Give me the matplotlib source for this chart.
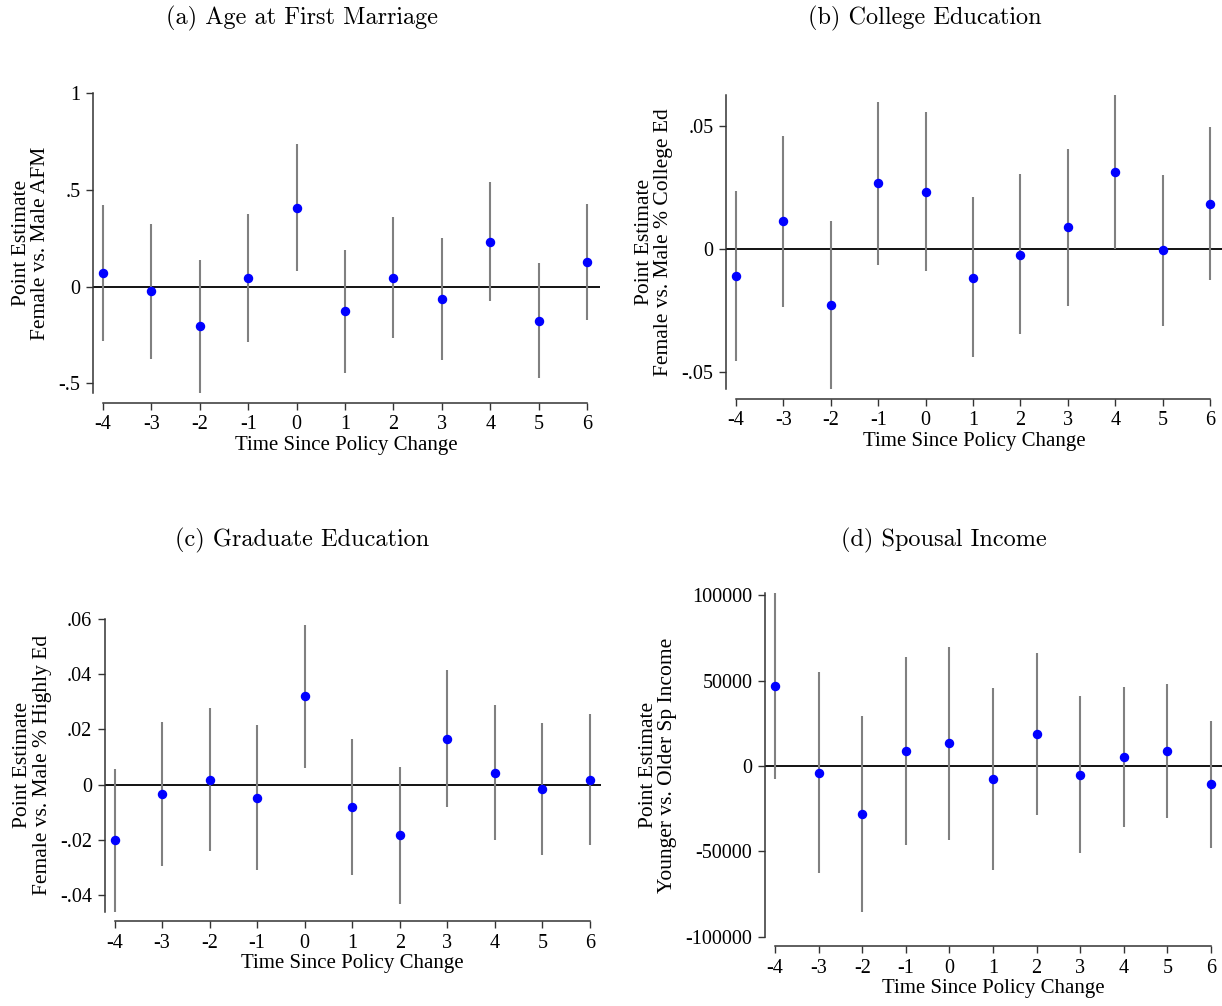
import matplotlib
matplotlib.use("Agg")
import matplotlib.pyplot as plt

# event-time axis shared by every panel
periods = [-4, -3, -2, -1, 0, 1, 2, 3, 4, 5, 6]

# (a) age at first marriage
afm_est = [0.070, -0.024, -0.205, 0.043, 0.408, -0.127, 0.046, -0.065, 0.231, -0.176, 0.125]
afm_hi = [0.421, 0.325, 0.137, 0.375, 0.735, 0.190, 0.360, 0.252, 0.541, 0.122, 0.425]
afm_lo = [-0.281, -0.375, -0.548, -0.288, 0.082, -0.447, -0.265, -0.382, -0.077, -0.474, -0.175]

# (b) college education
col_est = [-0.0110, 0.0113, -0.0228, 0.0267, 0.0234, -0.0117, -0.0022, 0.0089, 0.0312, -0.0005, 0.0184]
col_hi = [0.0236, 0.0461, 0.0114, 0.0596, 0.0558, 0.0210, 0.0304, 0.0407, 0.0626, 0.0302, 0.0495]
col_lo = [-0.0454, -0.0236, -0.0568, -0.0064, -0.0089, -0.0440, -0.0346, -0.0230, -0.0001, -0.0313, -0.0126]

# (c) graduate education
grad_est = [-0.0201, -0.0033, 0.0017, -0.0047, 0.0320, -0.0083, -0.0183, 0.0166, 0.0043, -0.0016, 0.0018]
grad_hi = [0.0057, 0.0228, 0.0276, 0.0216, 0.0579, 0.0164, 0.0064, 0.0414, 0.0287, 0.0224, 0.0255]
grad_lo = [-0.0461, -0.0293, -0.0240, -0.0308, 0.0060, -0.0329, -0.0431, -0.0081, -0.0200, -0.0255, -0.0217]

# (d) spousal income
inc_est = [46900, -4100, -28100, 9000, 13500, -7600, 18800, -5300, 5500, 9000, -10700]
inc_hi = [101200, 54900, 29300, 64100, 69900, 45500, 66000, 41000, 46300, 48000, 26400]
inc_lo = [-7600, -62900, -85400, -46300, -43200, -60700, -28700, -51200, -35500, -30700, -48200]

W, H = 1222, 1006
fig = plt.figure(figsize=(W / 100, H / 100), dpi=100)
fig.patch.set_facecolor("white")

SERIF = "Liberation Serif"
TITLE_FONT = "cmr10"


def panel(box, ylim, est, lo, hi, yticks, yticklabels, ylabel):
    # box = spine x, pixel of -4, pixel of 6, right edge, top, bottom
    spine_x, x_lo, x_hi, right_x, top_px, bot_px = box
    ppu = (x_hi - x_lo) / 10.0
    ax = fig.add_axes([spine_x / W, 1 - bot_px / H,
                       (right_x - spine_x) / W, (bot_px - top_px) / H])
    ax.set_xlim(-4 - (x_lo - spine_x) / ppu, 6 + (right_x - x_hi) / ppu)
    ax.set_ylim(*ylim)

    ax.axhline(0, color="black", lw=1.3, zorder=2)
    ax.vlines(periods, lo, hi, color="#808080", lw=1.5, zorder=3)
    ax.plot(periods, est, "o", color="#0000ff", ms=5.8, mec="#0000ff", zorder=4)

    for side in ["top", "right"]:
        ax.spines[side].set_visible(False)
    for side in ["left", "bottom"]:
        ax.spines[side].set_color("#333333")
        ax.spines[side].set_linewidth(1.1)
    ax.spines["bottom"].set_position(("outward", 7))
    ax.spines["bottom"].set_bounds(-4, 6)

    ax.set_xticks(periods)
    ax.set_xticklabels([str(p) for p in periods])
    ax.set_yticks(yticks)
    ax.set_yticklabels(yticklabels)
    ax.tick_params(direction="out", length=5, width=1.0, color="#333333",
                   labelsize=14.5, pad=4)
    for lab in ax.get_xticklabels() + ax.get_yticklabels():
        lab.set_fontfamily(SERIF)

    ax.set_xlabel("Time Since Policy Change", fontsize=15, family=SERIF, labelpad=1)
    ax.set_ylabel(ylabel, fontsize=15.5, family=SERIF, linespacing=1.05, labelpad=6)
    return ax


panel((93, 103, 587, 600, 93, 393), (-0.55, 1.0), afm_est, afm_lo, afm_hi,
      [-0.5, 0, 0.5, 1], ["-.5", "0", ".5", "1"],
      "Point Estimate\nFemale vs. Male AFM")

panel((726, 736, 1210, 1222, 95, 389), (-0.0568, 0.0626), col_est, col_lo, col_hi,
      [-0.05, 0, 0.05], ["-.05", "0", ".05"],
      "Point Estimate\nFemale vs. Male % College Ed")

panel((104.5, 114.5, 590, 601, 618.7, 911.7), (-0.046, 0.06), grad_est, grad_lo, grad_hi,
      [-0.04, -0.02, 0, 0.02, 0.04, 0.06], ["-.04", "-.02", "0", ".02", ".04", ".06"],
      "Point Estimate\nFemale vs. Male % Highly Ed")

panel((765, 775, 1211, 1222, 593.3, 936.7), (-100000, 101200), inc_est, inc_lo, inc_hi,
      [-100000, -50000, 0, 50000, 100000], ["-100000", "-50000", "0", "50000", "100000"],
      "Point Estimate\nYounger vs. Older Sp Income")

titles = [("(a) Age at First Marriage", 302, 18),
          ("(b) College Education", 925, 18),
          ("(c) Graduate Education", 302, 540),
          ("(d) Spousal Income", 944, 540)]
for text, cx, cy in titles:
    fig.text(cx / W, 1 - cy / H, text, ha="center", va="center",
             fontsize=17.5, family=TITLE_FONT)

fig.savefig("out.png", dpi=100)
